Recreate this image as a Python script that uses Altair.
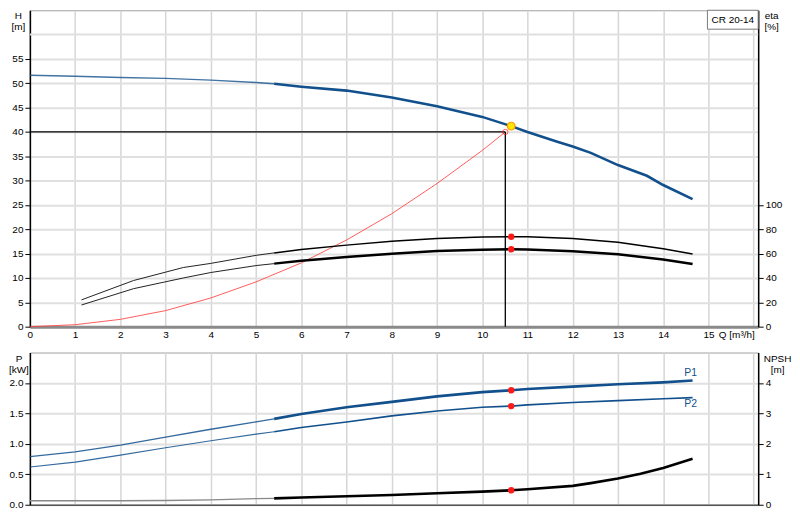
import altair as alt
import pandas as pd

# ---------------- data ----------------
model_name = "CR 20-14"

q_head = [0, 1, 2, 3, 4, 5, 5.4, 6, 7, 8, 9, 10, 10.64, 11, 11.66, 12, 12.4, 13, 13.64, 14, 14.65]
head = [51.65, 51.45, 51.2, 51.0, 50.65, 50.15, 49.9, 49.3, 48.5, 47.1, 45.3, 43.1, 41.2, 40.0,
        38.0, 37.0, 35.7, 33.2, 31.0, 29.1, 26.2]

q_sys = [0, 1, 2, 3, 4, 5, 6, 7, 8, 9, 10, 10.51]
h_sys = [0, 0.4, 1.5, 3.3, 5.9, 9.2, 13.1, 17.8, 23.2, 29.4, 36.2, 40.0]

q_eta = [1.14, 2.29, 3.39, 4, 5, 5.4, 6, 7, 8, 9, 10, 10.64, 11, 12, 13, 14, 14.65]
eta_pump = [22.0, 37.9, 48.6, 52.0, 58.6, 60.6, 63.4, 67.0, 70.1, 72.5, 73.6, 73.9, 73.9, 72.5, 69.3, 64.0, 59.7]
eta_total = [17.8, 31.2, 40.0, 44.5, 50.2, 51.8, 54.2, 57.3, 60.0, 62.2, 63.2, 63.6, 63.5, 61.9, 59.5, 55.2, 51.5]

q_pow = [0, 1, 2, 3, 4, 5, 5.4, 6, 7, 8, 9, 10, 10.64, 11, 12, 13, 14, 14.65]
p1 = [0.79, 0.87, 0.98, 1.11, 1.24, 1.36, 1.41, 1.49, 1.60, 1.69, 1.78, 1.85, 1.88, 1.90, 1.94, 1.98, 2.01, 2.04]
p2 = [0.62, 0.70, 0.815, 0.935, 1.05, 1.16, 1.20, 1.27, 1.36, 1.46, 1.54, 1.60, 1.62, 1.64, 1.68, 1.71, 1.74, 1.76]

q_npsh = [0, 1, 2, 3, 4, 5, 5.4, 6, 7, 8, 9, 10, 10.64, 11, 12, 12.4, 13, 13.5, 14, 14.65]
npsh = [0.13, 0.13, 0.13, 0.14, 0.16, 0.20, 0.21, 0.24, 0.28, 0.32, 0.38, 0.43, 0.475, 0.51, 0.62,
        0.71, 0.86, 1.02, 1.21, 1.51]

duty_q = 10.64
duty_h = 41.2
req_q = 10.51
req_h = 40.0
eta_duty = [73.9, 63.6]
p_duty = [1.88, 1.62]
npsh_duty = [0.475]
split_q = 5.4

curve_labels = ["P1", "P2"]
curve_label_q = [14.65, 14.65]
curve_label_v = [2.04, 1.76]

x_ticks = list(range(0, 17))
h_ticks = [0, 5, 10, 15, 20, 25, 30, 35, 40, 45, 50, 55]
h_extra_grid = [60]
eta_ticks = [0, 20, 40, 60, 80, 100]
p_ticks = [0.0, 0.5, 1.0, 1.5, 2.0]
npsh_ticks = [0, 1, 2, 3, 4]

# ---------------- helpers ----------------
W = 732
H_TOP = 318
H_BOT = 153
FONT = "Liberation Sans"
BLUE = "#11508c"
RED = "#ff1a1a"


def frame(q, v):
    return pd.DataFrame({"q": q, "v": v})


def thin_part(q, v):
    return frame([a for a in q if a <= split_q], [b for a, b in zip(q, v) if a <= split_q])


def thick_part(q, v):
    return frame([a for a in q if a >= split_q], [b for a, b in zip(q, v) if a >= split_q])


x_scale = alt.Scale(domain=[0, 16.1], nice=False, zero=False)
h_scale = alt.Scale(domain=[0, 65], nice=False)
eta_scale = alt.Scale(domain=[0, 260], nice=False)
p_scale = alt.Scale(domain=[0, 2.5], nice=False)
npsh_scale = alt.Scale(domain=[0, 5], nice=False)

x_axis_top = alt.Axis(
    values=x_ticks, labelExpr="datum.value > 15 ? '' : datum.label", grid=True,
    gridColor="#d6d6d6", gridWidth=1.5, ticks=False, labelPadding=3, labelFlush=False,
    domainColor="#8a8a8a", domainWidth=3, title="Q [m³/h]", titleX=692, titleY=3,
    titleAlign="left", titleBaseline="top", titleAngle=0,
)
x_axis_bot = alt.Axis(
    values=x_ticks, labels=False, ticks=False, grid=True, gridColor="#d6d6d6", gridWidth=1.5,
    domainColor="#555555", domainWidth=1.5, title=None,
)
h_axis = alt.Axis(
    values=h_ticks, grid=True, gridColor="#e0e0e0", gridWidth=2, tickSize=5, tickColor="#000",
    labelPadding=2, domainColor="#000", domainWidth=1.5, title=["H", "[m]"], titleAngle=0,
    titleAlign="center", titleBaseline="top", titleX=-12, titleY=0, titleLineHeight=11.5,
)
eta_axis = alt.Axis(
    orient="right", values=eta_ticks, grid=False, tickSize=5, tickColor="#000", labelPadding=2,
    domainColor="#000", domainWidth=1.5, title=["eta", "[%]"], titleAngle=0, titleAlign="center",
    titleBaseline="top", titleX=13, titleY=0, titleLineHeight=11.5,
)
p_axis = alt.Axis(
    values=p_ticks, format=".1f", grid=True, gridColor="#e0e0e0", gridWidth=2, tickSize=5,
    tickColor="#000", labelPadding=2, domainColor="#000", domainWidth=1.5, title=["P", "[kW]"],
    titleAngle=0, titleAlign="center", titleBaseline="top", titleX=-11.5, titleY=1,
    titleLineHeight=11.5,
)
npsh_axis = alt.Axis(
    orient="right", values=npsh_ticks, grid=False, tickSize=5, tickColor="#000", labelPadding=2,
    domainColor="#000", domainWidth=1.5, title=["NPSH", "[m]"], titleAngle=0, titleAlign="center",
    titleBaseline="top", titleX=19, titleY=1, titleLineHeight=11.5,
)

xt = alt.X("q:Q", scale=x_scale, axis=x_axis_top)
xb = alt.X("q:Q", scale=x_scale, axis=x_axis_bot)
yh = alt.Y("v:Q", scale=h_scale, axis=h_axis)
ye = alt.Y("v:Q", scale=eta_scale, axis=eta_axis)
yp = alt.Y("v:Q", scale=p_scale, axis=p_axis)
yn = alt.Y("v:Q", scale=npsh_scale, axis=npsh_axis)

# ---------------- top panel ----------------
grid60 = alt.Chart(pd.DataFrame({"v": h_extra_grid})).mark_rule(
    color="#e0e0e0", strokeWidth=2).encode(y=yh)
sys_line = alt.Chart(frame(q_sys, h_sys)).mark_line(
    color="#ff4040", strokeWidth=1, opacity=0.85).encode(x=xt, y=yh)
op_h = alt.Chart(pd.DataFrame({"q": [0], "q2": [req_q], "v": [req_h]})).mark_rule(
    color="#000", strokeWidth=1.3).encode(x=xt, x2="q2:Q", y=yh)
op_v = alt.Chart(pd.DataFrame({"q": [req_q], "v": [0], "v2": [req_h]})).mark_rule(
    color="#000", strokeWidth=1.3).encode(x=xt, y=yh, y2="v2:Q")
head_thin = alt.Chart(thin_part(q_head, head)).mark_line(
    color=BLUE, strokeWidth=1.4, opacity=0.8).encode(x=xt, y=yh)
head_thick = alt.Chart(thick_part(q_head, head)).mark_line(
    color=BLUE, strokeWidth=2.6).encode(x=xt, y=yh)
req_pt = alt.Chart(frame([req_q], [req_h])).mark_point(
    shape="circle", filled=False, color=RED, size=28, strokeWidth=1).encode(x=xt, y=yh)
duty_pt = alt.Chart(frame([duty_q], [duty_h])).mark_point(
    shape="circle", filled=True, fill="#ffe600", stroke="#ff9a00", strokeWidth=1.2,
    size=60, opacity=1).encode(x=xt, y=yh)
lbl_df = pd.DataFrame({"label": [model_name]})
box = alt.Chart(lbl_df).mark_rect(fill="white", stroke="#7a7a7a", strokeWidth=1).encode(
    x=alt.value(W - 51), x2=alt.value(W), y=alt.value(0), y2=alt.value(19))
box_text = alt.Chart(lbl_df).mark_text(
    font=FONT, fontSize=10, color="#000", align="center", baseline="middle").encode(
    x=alt.value(W - 25.5), y=alt.value(9.5), text="label:N")

left_top = alt.layer(grid60, sys_line, op_h, op_v, head_thin, head_thick, box, box_text,
                     req_pt, duty_pt)

eta1_thin = alt.Chart(thin_part(q_eta, eta_pump)).mark_line(
    color="#222", strokeWidth=1).encode(x=xt, y=ye)
eta1_thick = alt.Chart(thick_part(q_eta, eta_pump)).mark_line(
    color="#000", strokeWidth=1.5).encode(x=xt, y=ye)
eta2_thin = alt.Chart(thin_part(q_eta, eta_total)).mark_line(
    color="#222", strokeWidth=1).encode(x=xt, y=ye)
eta2_thick = alt.Chart(thick_part(q_eta, eta_total)).mark_line(
    color="#000", strokeWidth=2.5).encode(x=xt, y=ye)
eta_dots = alt.Chart(frame([duty_q, duty_q], eta_duty)).mark_point(
    shape="circle", filled=True, color=RED, size=42, opacity=1).encode(x=xt, y=ye)

right_top = alt.layer(eta1_thin, eta1_thick, eta2_thin, eta2_thick, eta_dots)

top = alt.layer(left_top, right_top).resolve_scale(y="independent").properties(
    width=W, height=H_TOP)

# ---------------- bottom panel ----------------
p1_thin = alt.Chart(thin_part(q_pow, p1)).mark_line(
    color=BLUE, strokeWidth=1.3, opacity=0.85).encode(x=xb, y=yp)
p1_thick = alt.Chart(thick_part(q_pow, p1)).mark_line(
    color=BLUE, strokeWidth=2.6).encode(x=xb, y=yp)
p2_thin = alt.Chart(thin_part(q_pow, p2)).mark_line(
    color=BLUE, strokeWidth=1.1, opacity=0.85).encode(x=xb, y=yp)
p2_thick = alt.Chart(thick_part(q_pow, p2)).mark_line(
    color=BLUE, strokeWidth=1.6).encode(x=xb, y=yp)
p_dots = alt.Chart(frame([duty_q, duty_q], p_duty)).mark_point(
    shape="circle", filled=True, color=RED, size=42, opacity=1).encode(x=xb, y=yp)
lab_df = pd.DataFrame({"q": curve_label_q, "v": curve_label_v, "label": curve_labels})
p1_lab = alt.Chart(lab_df.iloc[[0]]).mark_text(
    font=FONT, fontSize=10.5, color=BLUE, align="center", baseline="middle", dx=-2, dy=-8).encode(
    x=xb, y=yp, text="label:N")
p2_lab = alt.Chart(lab_df.iloc[[1]]).mark_text(
    font=FONT, fontSize=10.5, color=BLUE, align="center", baseline="middle", dx=-2, dy=6).encode(
    x=xb, y=yp, text="label:N")

left_bot = alt.layer(p1_thin, p1_thick, p2_thin, p2_thick, p_dots, p1_lab, p2_lab)

npsh_thin = alt.Chart(thin_part(q_npsh, npsh)).mark_line(
    color="#888", strokeWidth=1.4).encode(x=xb, y=yn)
npsh_thick = alt.Chart(thick_part(q_npsh, npsh)).mark_line(
    color="#000", strokeWidth=2.6).encode(x=xb, y=yn)
npsh_dot = alt.Chart(frame([duty_q], npsh_duty)).mark_point(
    shape="circle", filled=True, color=RED, size=42, opacity=1).encode(x=xb, y=yn)

right_bot = alt.layer(npsh_thin, npsh_thick, npsh_dot)

bottom = alt.layer(left_bot, right_bot).resolve_scale(y="independent").properties(
    width=W, height=H_BOT)

chart = alt.vconcat(top, bottom, spacing=11).resolve_scale(
    x="independent", y="independent").properties(
    padding={"left": 0, "top": 0, "right": 0, "bottom": 0}
).configure_view(stroke="#a0a0a0", strokeWidth=1).configure_axis(
    labelFont=FONT, titleFont=FONT, labelFontSize=10, titleFontSize=10,
    labelColor="#000", titleColor="#000", titleFontWeight="normal",
)

chart.save("out.html", embed_options={"renderer": "svg", "actions": False})
